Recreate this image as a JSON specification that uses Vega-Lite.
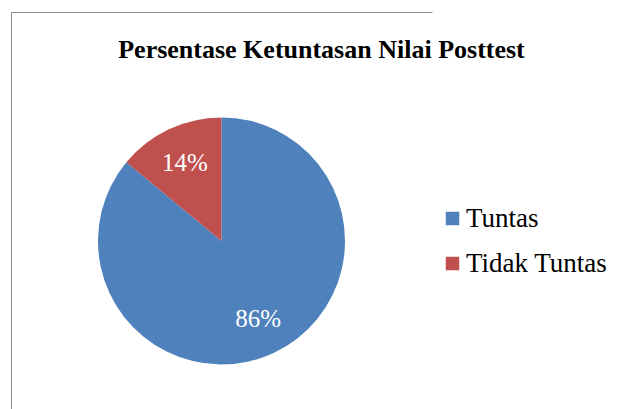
{
  "$schema": "https://vega.github.io/schema/vega-lite/v6.json",
  "autosize": {"type": "none"},
  "width": 421,
  "height": 458,
  "padding": {"left": 11, "top": 12, "right": 188, "bottom": 0},
  "background": "white",
  "view": {"stroke": "#8c8c8c", "strokeWidth": 1, "strokeDash": [421, 879, 458]},
  "title": {
    "text": "Persentase Ketuntasan Nilai Posttest",
    "font": "Liberation Serif",
    "fontSize": 26,
    "fontWeight": "bold",
    "color": "black",
    "anchor": "middle",
    "frame": "group",
    "dx": 100,
    "offset": -51
  },
  "data": {
    "values": [
      {"status": "Tuntas", "persen": 0.86, "urut": 1},
      {"status": "Tidak Tuntas", "persen": 0.14, "urut": 2}
    ]
  },
  "encoding": {
    "theta": {"field": "persen", "type": "quantitative", "stack": true},
    "order": {"field": "urut", "type": "ordinal"}
  },
  "layer": [
    {
      "mark": {"type": "arc", "outerRadius": 123.5},
      "encoding": {
        "color": {
          "field": "status",
          "type": "nominal",
          "scale": {"domain": ["Tuntas", "Tidak Tuntas"], "range": ["#4F81BD", "#C0504D"]},
          "legend": {
            "orient": "none",
            "legendX": 428,
            "legendY": 193,
            "title": null,
            "symbolType": "square",
            "symbolSize": 182,
            "symbolStrokeWidth": 0,
            "symbolOpacity": 1,
            "labelFont": "Liberation Serif",
            "labelFontSize": 27,
            "labelColor": "black",
            "labelOffset": 0,
            "rowPadding": 17,
            "padding": 0
          }
        }
      }
    },
    {
      "mark": {"type": "text", "radius": 86, "font": "Liberation Serif", "fontSize": 25},
      "encoding": {
        "text": {"field": "persen", "type": "quantitative", "format": ".0%"},
        "color": {"value": "white"}
      }
    }
  ]
}
